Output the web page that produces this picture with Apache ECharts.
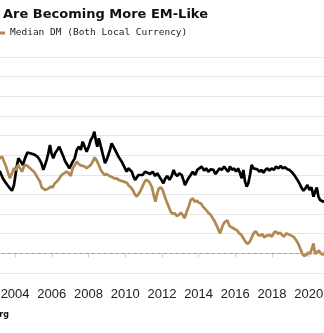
<!DOCTYPE html>
<html>
<head>
<meta charset="utf-8">
<script src="https://cdn.jsdelivr.net/npm/echarts@6/dist/echarts.min.js"></script>
<style>html,body{margin:0;padding:0;background:#fff}#c{width:324px;height:333px}</style>
</head>
<body>
<div id="c"></div>
<script>
const titleText = 'Are Becoming More EM-Like';
const dmName = 'Median DM (Both Local Currency)';
const emName = 'Median EM (Both Local Currency)';
const yearTicks = [2000, 2002, 2004, 2006, 2008, 2010, 2012, 2014, 2016, 2018, 2020, 2022];

const emDates = [2002.95,2003.18,2003.33,2003.45,2003.58,2003.72,2003.83,2003.94,2004.09,2004.18,2004.31,2004.42,2004.54,2004.67,2004.83,2004.96,2005.09,2005.21,2005.32,2005.43,2005.54,2005.63,2005.72,2005.81,2005.90,2005.98,2006.08,2006.18,2006.30,2006.41,2006.52,2006.63,2006.74,2006.85,2006.96,2007.03,2007.14,2007.25,2007.36,2007.47,2007.58,2007.68,2007.79,2007.90,2008.01,2008.12,2008.23,2008.32,2008.41,2008.48,2008.56,2008.63,2008.72,2008.81,2008.90,2008.99,2009.08,2009.17,2009.26,2009.36,2009.45,2009.54,2009.63,2009.72,2009.81,2009.90,2009.99,2010.08,2010.17,2010.26,2010.36,2010.45,2010.54,2010.63,2010.72,2010.81,2010.95,2011.08,2011.21,2011.35,2011.50,2011.63,2011.75,2011.86,2011.97,2012.08,2012.19,2012.30,2012.41,2012.52,2012.64,2012.73,2012.84,2012.95,2013.08,2013.17,2013.26,2013.35,2013.44,2013.57,2013.68,2013.81,2013.93,2014.04,2014.17,2014.30,2014.41,2014.53,2014.66,2014.81,2014.91,2015.02,2015.13,2015.26,2015.39,2015.50,2015.61,2015.71,2015.82,2015.93,2016.04,2016.15,2016.26,2016.35,2016.44,2016.53,2016.62,2016.71,2016.80,2016.89,2016.99,2017.09,2017.20,2017.31,2017.42,2017.53,2017.64,2017.75,2017.86,2017.98,2018.11,2018.22,2018.35,2018.47,2018.58,2018.71,2018.84,2018.95,2019.06,2019.17,2019.27,2019.38,2019.49,2019.60,2019.71,2019.82,2019.93,2020.04,2020.15,2020.26,2020.35,2020.44,2020.53,2020.62,2020.71,2020.80,2020.95,2021.07];
const emYield = [4.25,4.16,3.82,3.65,3.48,3.31,3.19,3.48,4.42,4.84,4.67,4.50,4.84,5.13,5.10,5.06,5.01,4.93,4.79,4.59,4.25,4.50,4.76,5.10,5.52,5.10,4.84,5.10,5.27,5.43,5.18,4.93,4.67,4.50,4.33,4.25,4.67,4.84,5.27,5.43,5.27,5.69,5.43,5.18,5.43,5.77,5.94,6.20,5.69,5.43,5.86,5.60,5.27,4.93,4.59,4.76,5.01,5.27,5.60,5.43,5.27,5.10,4.93,4.84,4.67,4.59,4.33,4.16,4.33,4.42,4.16,3.91,3.74,3.82,3.99,4.08,3.99,4.16,4.11,4.04,4.16,3.94,4.08,3.91,3.74,3.57,3.82,3.94,3.74,3.91,4.25,4.04,3.94,4.08,3.99,3.74,3.48,3.65,3.82,3.99,4.16,3.99,4.25,4.33,4.42,4.21,4.33,4.16,4.28,4.25,4.04,4.16,4.33,4.25,4.42,4.28,4.16,4.42,4.25,4.33,4.16,4.33,4.08,3.82,4.25,3.65,3.40,3.57,3.99,4.50,4.33,4.25,4.28,4.16,4.25,4.11,4.25,4.33,4.21,4.33,4.25,4.42,4.33,4.45,4.33,4.38,4.28,4.25,4.16,4.04,3.91,3.74,3.57,3.36,3.19,3.31,3.48,3.23,3.36,2.89,3.14,3.36,2.89,2.72,2.80,2.63,2.72,2.63];

const dmDates = [2002.95,2003.18,2003.29,2003.40,2003.51,2003.62,2003.72,2003.83,2003.94,2004.05,2004.16,2004.27,2004.38,2004.49,2004.60,2004.71,2004.81,2004.92,2005.03,2005.14,2005.25,2005.36,2005.45,2005.54,2005.63,2005.72,2005.83,2005.94,2006.05,2006.16,2006.27,2006.38,2006.49,2006.60,2006.70,2006.81,2006.92,2007.03,2007.14,2007.25,2007.36,2007.47,2007.58,2007.68,2007.79,2007.90,2008.01,2008.12,2008.23,2008.34,2008.45,2008.56,2008.67,2008.77,2008.88,2008.99,2009.10,2009.21,2009.32,2009.43,2009.54,2009.65,2009.76,2009.86,2009.97,2010.08,2010.19,2010.30,2010.41,2010.52,2010.63,2010.72,2010.81,2010.92,2011.03,2011.14,2011.25,2011.35,2011.46,2011.57,2011.65,2011.72,2011.83,2011.94,2012.04,2012.15,2012.26,2012.37,2012.48,2012.59,2012.70,2012.81,2012.92,2013.03,2013.13,2013.24,2013.35,2013.46,2013.57,2013.68,2013.79,2013.90,2014.01,2014.12,2014.22,2014.33,2014.44,2014.55,2014.66,2014.77,2014.88,2014.99,2015.10,2015.17,2015.26,2015.35,2015.46,2015.57,2015.68,2015.79,2015.90,2016.00,2016.11,2016.22,2016.33,2016.44,2016.55,2016.66,2016.73,2016.80,2016.91,2017.02,2017.13,2017.24,2017.35,2017.46,2017.57,2017.68,2017.78,2017.89,2018.00,2018.11,2018.22,2018.33,2018.44,2018.55,2018.66,2018.77,2018.87,2018.98,2019.09,2019.20,2019.31,2019.42,2019.53,2019.64,2019.75,2019.86,2019.96,2020.07,2020.18,2020.26,2020.35,2020.44,2020.55,2020.65,2020.76,2020.87,2021.02];
const dmYield = [4.90,4.84,4.93,4.67,4.42,4.08,3.82,4.08,4.33,4.25,4.50,4.33,4.16,4.45,4.50,4.42,4.33,4.25,4.16,3.99,3.82,3.65,3.36,3.43,3.23,3.14,3.31,3.40,3.36,3.57,3.65,3.77,3.94,4.04,3.99,4.16,4.08,3.94,4.33,4.50,4.67,4.55,4.48,4.52,4.42,4.33,4.42,4.50,4.67,4.89,4.72,4.50,4.25,4.11,3.99,4.04,3.97,3.91,3.87,3.80,3.82,3.74,3.70,3.74,3.64,3.60,3.46,3.36,3.23,3.02,2.89,2.79,3.14,3.36,3.60,3.74,3.70,3.57,3.36,2.89,2.63,2.97,3.31,3.36,3.23,2.92,2.63,2.38,2.12,2.01,2.04,1.90,1.96,2.07,1.96,1.79,2.12,2.38,2.72,2.80,2.63,2.69,2.58,2.55,2.41,2.29,2.18,2.04,1.96,1.79,1.62,1.40,1.16,1.02,1.28,1.50,1.62,1.67,1.40,1.33,1.28,1.22,1.16,1.02,0.94,0.77,0.60,0.48,0.38,0.60,0.85,1.06,1.11,0.94,0.89,0.99,0.82,0.89,0.85,0.94,0.85,1.06,1.11,0.99,1.06,0.94,0.85,1.02,0.99,0.94,0.89,0.82,0.68,0.51,0.26,0.00,-0.13,-0.08,0.04,-0.03,0.26,0.51,-0.03,0.04,0.14,0.00,-0.07,0.04,0.00];

const pair = (xs, ys) => xs.map((x, i) => [x, ys[i]]);

const chart = echarts.init(document.getElementById('c'), null, {renderer: 'canvas'});
chart.setOption({
  animation: false,
  backgroundColor: '#ffffff',
  title: {
    text: titleText, left: 3, top: 8, padding: 0,
    textStyle: {fontFamily: 'DejaVu Sans', fontWeight: 'bold', fontSize: 13, color: '#111'}
  },
  legend: {
    data: [dmName], left: -7, top: 28, padding: 0,
    icon: 'rect', itemWidth: 12, itemHeight: 3,
    textStyle: {fontFamily: 'DejaVu Sans Mono', fontSize: 9.5, color: '#222'}
  },
  grid: {left: -58.3, right: -21.4, top: 57, bottom: 60, containLabel: false, outerBoundsMode: 'none'},
  xAxis: {
    type: 'value', min: 2000, max: 2022, interval: 2, offset: 7,
    axisLine: {show: true, lineStyle: {color: '#cfcfcf', width: 1}},
    axisTick: {show: true, length: 4, lineStyle: {color: '#cfcfcf'}},
    axisLabel: {
      margin: 8, fontFamily: 'Liberation Sans', fontSize: 13, color: '#222',
      hideOverlap: false,
      formatter: v => yearTicks.includes(v) ? String(v) : ''
    },
    splitLine: {show: false}
  },
  yAxis: {
    type: 'value', min: -1, max: 10, interval: 1,
    axisLine: {show: false}, axisTick: {show: false}, axisLabel: {show: false},
    splitLine: {lineStyle: {color: '#e6e6e6', width: 1}}
  },
  graphic: [{
    type: 'text', x: 9, y: 311,
    style: {text: 'Source: Bloomberg', textAlign: 'right', fontFamily: 'DejaVu Sans', fontWeight: 'bold', fontSize: 8, fill: '#111'}
  }],
  series: [
    {
      name: emName, type: 'line', data: pair(emDates, emYield),
      showSymbol: false, symbol: 'none', lineStyle: {color: '#000', width: 2.7}, itemStyle: {color: '#000'},
      markLine: {
        silent: true, symbol: 'none', label: {show: false},
        lineStyle: {color: '#a0a0a0', type: [3, 3], width: 1},
        data: [{yAxis: 0}]
      }
    },
    {
      name: dmName, type: 'line', data: pair(dmDates, dmYield),
      showSymbol: false, symbol: 'none', lineStyle: {color: '#b08850', width: 2.7}, itemStyle: {color: '#b08850'}
    }
  ]
});
</script>
</body>
</html>
